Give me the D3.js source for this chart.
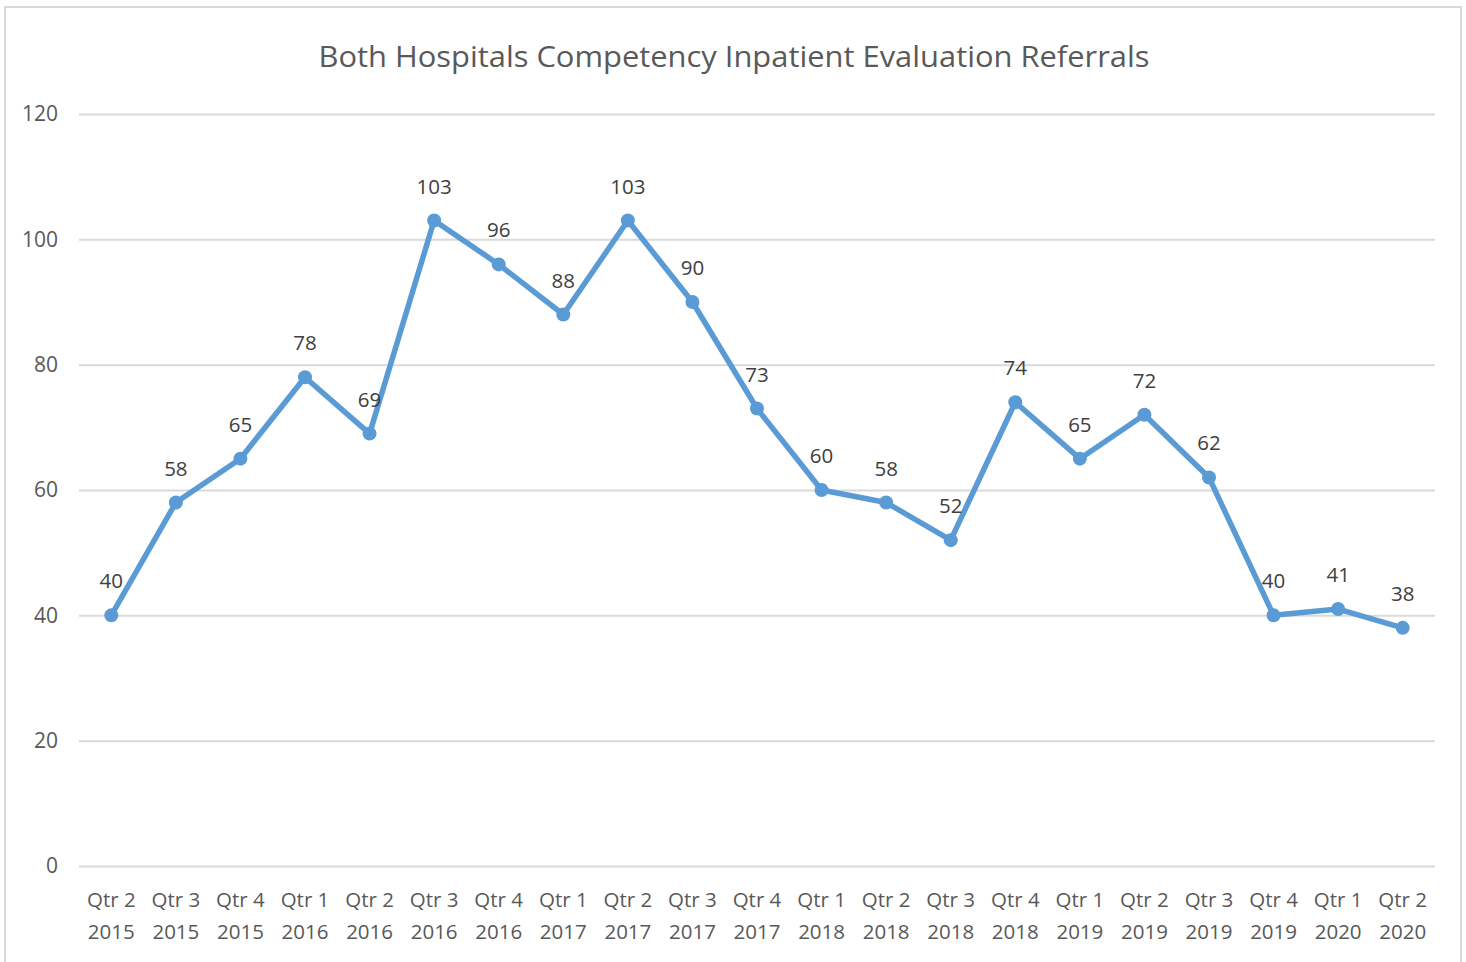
<!DOCTYPE html>
<html>
<head>
<meta charset="utf-8">
<script src="https://cdn.jsdelivr.net/npm/d3@7"></script>
<style>
  body { margin: 0; background: #fff; }
  svg text { font-family: "Open Sans", "Noto Sans", sans-serif; }
</style>
</head>
<body>
<div id="chart"></div>
<script>
// chart data
const quarters = ["Qtr 2", "Qtr 3", "Qtr 4", "Qtr 1", "Qtr 2", "Qtr 3", "Qtr 4", "Qtr 1", "Qtr 2", "Qtr 3", "Qtr 4",
    "Qtr 1", "Qtr 2", "Qtr 3", "Qtr 4", "Qtr 1", "Qtr 2", "Qtr 3", "Qtr 4", "Qtr 1", "Qtr 2"];
const years = ["2015", "2015", "2015", "2016", "2016", "2016", "2016", "2017", "2017", "2017", "2017",
    "2018", "2018", "2018", "2018", "2019", "2019", "2019", "2019", "2020", "2020"];
const referrals = [40, 58, 65, 78, 69, 103, 96, 88, 103, 90, 73, 60, 58, 52, 74, 65, 72, 62, 40, 41, 38];
const yTicks = [0, 20, 40, 60, 80, 100, 120];
const chartTitle = "Both Hospitals Competency Inpatient Evaluation Referrals";

const W = 1466, H = 962;
const margin = { top: 114, right: 31, bottom: 96, left: 79 };
const width = W - margin.left - margin.right;
const height = H - margin.top - margin.bottom;

const data = referrals.map((v, i) => ({ key: i, q: quarters[i], yr: years[i], value: v }));

const svg = d3.select("#chart").append("svg")
    .attr("width", W)
    .attr("height", H);

// outer chart frame
svg.append("rect")
    .attr("x", 5).attr("y", 7)
    .attr("width", 1456).attr("height", 970)
    .attr("fill", "none")
    .attr("stroke", "#d9d9d9")
    .attr("stroke-width", 2);

// title
svg.append("text")
    .attr("x", 734)
    .attr("y", 67)
    .attr("text-anchor", "middle")
    .attr("fill", "#595959")
    .style("font-size", "30px")
    .attr("textLength", 831)
    .attr("lengthAdjust", "spacingAndGlyphs")
    .text(chartTitle);

const g = svg.append("g")
    .attr("transform", "translate(" + margin.left + "," + margin.top + ")");

// scales
const x = d3.scaleBand()
    .domain(data.map(d => d.key))
    .range([0, width]);

const y = d3.scaleLinear()
    .domain([0, 120])
    .range([height, 0]);

const cx = d => x(d.key) + x.bandwidth() / 2;

// gridlines
const yAxis = d3.axisLeft(y)
    .tickValues(yTicks)
    .tickSize(-width)
    .tickPadding(21);

const yg = g.append("g").attr("class", "y-axis").call(yAxis);
yg.select(".domain").remove();
yg.selectAll(".tick line").attr("stroke", "#d9d9d9").attr("stroke-width", 2);
yg.selectAll(".tick text")
    .attr("fill", "#595959")
    .style("font-size", "21px");

// x axis labels (two lines)
const xAxis = d3.axisBottom(x).tickSize(0).tickFormat("");
const xg = g.append("g")
    .attr("transform", "translate(0," + height + ")")
    .call(xAxis);
xg.select(".domain").remove();
xg.selectAll(".tick").each(function(k) {
    const t = d3.select(this).append("text")
        .attr("fill", "#595959")
        .attr("text-anchor", "middle")
        .style("font-size", "20.5px");
    t.append("tspan").attr("x", 0).attr("y", 41).text(quarters[k]);
    t.append("tspan").attr("x", 0).attr("y", 73).text(years[k]);
});

// line
const line = d3.line()
    .x(cx)
    .y(d => y(d.value));

g.append("path")
    .datum(data)
    .attr("fill", "none")
    .attr("stroke", "#5b9bd5")
    .attr("stroke-width", 5.5)
    .attr("stroke-linejoin", "round")
    .attr("d", line);

g.selectAll(".dot")
    .data(data)
    .enter()
    .append("circle")
    .attr("class", "dot")
    .attr("cx", cx)
    .attr("cy", d => y(d.value))
    .attr("r", 7)
    .attr("fill", "#5b9bd5");

// data labels
g.selectAll(".lbl")
    .data(data)
    .enter()
    .append("text")
    .attr("class", "lbl")
    .attr("x", cx)
    .attr("y", d => y(d.value) - 27)
    .attr("text-anchor", "middle")
    .attr("fill", "#404040")
    .style("font-size", "20.5px")
    .text(d => d.value);
</script>
</body>
</html>
